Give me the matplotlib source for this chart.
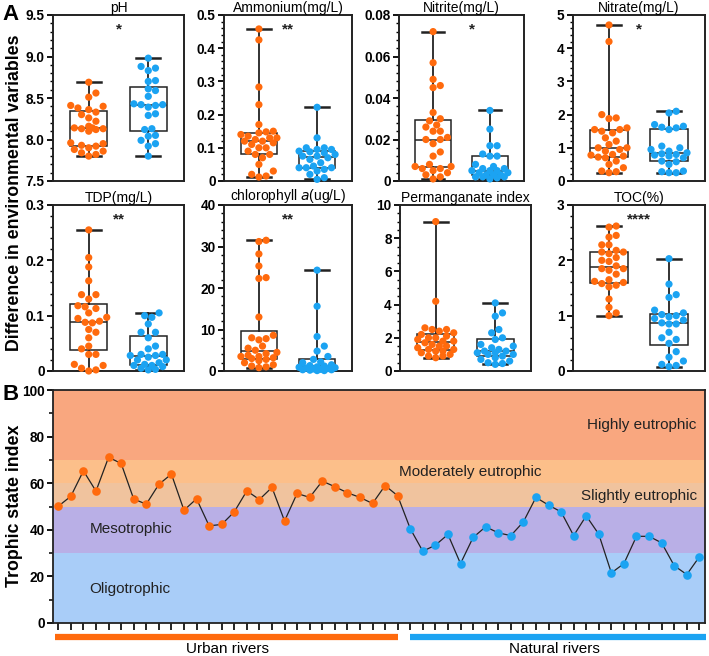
import numpy as np
import matplotlib
matplotlib.use('Agg')
import matplotlib.pyplot as plt
from matplotlib.ticker import AutoMinorLocator, FuncFormatter
import matplotlib.transforms as mtransforms

plt.rcParams['font.family'] = ['Liberation Sans', 'DejaVu Sans']

ORANGE = '#ff6a0d'
BLUE = '#1ba3f2'

# ---- panel A data (urban = orange, natural = blue) ----
ph_urban = [8.69, 8.56, 8.51, 8.41, 8.40, 8.38, 8.36, 8.33, 8.30, 8.26, 8.22, 8.16, 8.14, 8.14,
            8.13, 8.13, 8.12, 8.10, 7.96, 7.95, 7.93, 7.92, 7.90, 7.88, 7.86, 7.84, 7.82, 7.80]
ph_natural = [8.98, 8.88, 8.86, 8.83, 8.71, 8.70, 8.61, 8.59, 8.52, 8.43, 8.42, 8.42, 8.41, 8.39,
              8.31, 8.29, 8.13, 8.12, 8.05, 8.04, 7.99, 7.95, 7.92, 7.80]
nh4_urban = [0.458, 0.425, 0.283, 0.23, 0.17, 0.15, 0.148, 0.145, 0.14, 0.135, 0.13, 0.13, 0.125, 0.12,
             0.12, 0.115, 0.11, 0.10, 0.10, 0.09, 0.08, 0.08, 0.07, 0.05, 0.03, 0.02, 0.015, 0.012]
nh4_natural = [0.222, 0.13, 0.10, 0.10, 0.095, 0.095, 0.09, 0.088, 0.085, 0.08, 0.075, 0.075, 0.07, 0.065,
               0.055, 0.045, 0.04, 0.04, 0.04, 0.035, 0.03, 0.02, 0.01, 0.005]
no2_urban = [0.072, 0.057, 0.049, 0.046, 0.045, 0.033, 0.030, 0.029, 0.027, 0.026, 0.024, 0.024, 0.021, 0.020,
             0.020, 0.018, 0.014, 0.012, 0.008, 0.007, 0.007, 0.006, 0.006, 0.005, 0.004, 0.003, 0.002, 0.001]
no2_natural = [0.034, 0.025, 0.017, 0.017, 0.013, 0.012, 0.012, 0.008, 0.007, 0.006, 0.006, 0.005, 0.005, 0.005,
               0.004, 0.004, 0.003, 0.003, 0.003, 0.002, 0.002, 0.002, 0.0015, 0.001]
no3_urban = [4.7, 4.2, 2.0, 1.9, 1.88, 1.6, 1.55, 1.55, 1.5, 1.45, 1.3, 1.2, 1.1, 1.0,
             1.0, 0.95, 0.9, 0.8, 0.78, 0.75, 0.72, 0.7, 0.6, 0.5, 0.4, 0.3, 0.28, 0.25]
no3_natural = [2.1, 2.05, 1.7, 1.65, 1.62, 1.6, 1.55, 1.05, 1.0, 0.95, 0.9, 0.85, 0.82, 0.8,
               0.78, 0.75, 0.7, 0.6, 0.58, 0.5, 0.3, 0.28, 0.25, 0.25]
tdp_urban = [0.255, 0.205, 0.188, 0.163, 0.138, 0.138, 0.13, 0.118, 0.116, 0.113, 0.105, 0.097, 0.095, 0.09,
             0.088, 0.087, 0.075, 0.07, 0.06, 0.045, 0.04, 0.03, 0.03, 0.012, 0.01, 0.005, 0.002, 0.0]
tdp_natural = [0.105, 0.10, 0.097, 0.085, 0.07, 0.07, 0.06, 0.045, 0.04, 0.03, 0.03, 0.028, 0.028, 0.025,
               0.02, 0.02, 0.015, 0.012, 0.01, 0.01, 0.008, 0.005, 0.003, 0.002]
chla_urban = [31.5, 31.2, 28.2, 25.3, 22.5, 22.3, 13.0, 8.6, 8.0, 7.8, 7.5, 6.0, 5.5, 5.0,
              4.5, 4.2, 3.8, 3.5, 3.5, 3.2, 3.0, 2.8, 2.5, 2.0, 1.5, 1.2, 1.0, 0.8]
chla_natural = [24.3, 15.6, 8.3, 6.0, 4.8, 3.5, 2.8, 2.2, 2.0, 1.5, 1.3, 1.2, 1.0, 0.9,
                0.8, 0.7, 0.6, 0.5, 0.4, 0.3, 0.3, 0.2, 0.1, 0.1]
codmn_urban = [9.0, 4.2, 2.6, 2.5, 2.5, 2.4, 2.3, 2.2, 2.1, 2.0, 2.0, 1.9, 1.8, 1.8,
               1.7, 1.6, 1.5, 1.5, 1.4, 1.3, 1.3, 1.2, 1.2, 1.1, 1.0, 0.9, 0.9, 0.8]
codmn_natural = [4.1, 3.5, 3.3, 2.5, 2.3, 2.0, 1.9, 1.6, 1.5, 1.4, 1.3, 1.2, 1.2, 1.1,
                 1.1, 1.0, 1.0, 0.9, 0.8, 0.7, 0.6, 0.5, 0.45, 0.4]
toc_urban = [2.62, 2.60, 2.45, 2.42, 2.28, 2.28, 2.18, 2.15, 2.15, 2.12, 2.05, 2.0, 1.98, 1.9,
             1.85, 1.85, 1.82, 1.75, 1.65, 1.62, 1.6, 1.58, 1.55, 1.52, 1.3, 1.15, 1.05, 1.0]
toc_natural = [2.03, 1.57, 1.38, 1.33, 1.10, 1.05, 1.02, 1.0, 0.98, 0.95, 0.92, 0.87, 0.85, 0.85,
               0.7, 0.6, 0.57, 0.5, 0.35, 0.25, 0.18, 0.12, 0.1, 0.08]

titles = ['pH', 'Ammonium(mg/L)', 'Nitrite(mg/L)', 'Nitrate(mg/L)',
          'TDP(mg/L)', 'chlorophyll $\\mathit{a}$(ug/L)', 'Permanganate index', 'TOC(%)']
stars = ['*', '**', '*', '*', '**', '**', '', '****']
ylims = [(7.5, 9.5), (0, 0.5), (0, 0.08), (0, 5), (0, 0.3), (0, 40), (0, 10), (0, 3)]
yticks = [[7.5, 8.0, 8.5, 9.0, 9.5], [0, 0.1, 0.2, 0.3, 0.4, 0.5], [0, 0.02, 0.04, 0.06, 0.08],
          [0, 1, 2, 3, 4, 5], [0, 0.1, 0.2, 0.3], [0, 10, 20, 30, 40], [0, 2, 4, 6, 8, 10], [0, 1, 2, 3]]
urban_sets = [ph_urban, nh4_urban, no2_urban, no3_urban, tdp_urban, chla_urban, codmn_urban, toc_urban]
natural_sets = [ph_natural, nh4_natural, no2_natural, no3_natural, tdp_natural, chla_natural,
                codmn_natural, toc_natural]

# ---- panel B data ----
tsi_urban = [50.1, 54.4, 65.3, 56.6, 71.1, 68.5, 53.2, 51.0, 59.5, 63.9, 48.4, 53.3, 41.7, 42.3,
             47.7, 56.7, 53.0, 58.2, 43.8, 55.6, 53.9, 60.9, 58.5, 55.9, 53.9, 51.3, 59.0, 54.6]
tsi_natural = [40.5, 30.8, 33.4, 38.0, 25.5, 36.7, 41.3, 38.7, 37.5, 43.4, 53.9, 50.6, 47.7, 37.5,
               46.0, 38.1, 21.5, 25.5, 37.2, 37.2, 34.4, 24.6, 20.8, 28.4]
bands = [(0, 30, '#a9cdf8'), (30, 50, '#b9afe6'), (50, 60, '#f0c39e'), (60, 70, '#fcbf8a'), (70, 100, '#f9a77f')]

W, H = 709, 656
fig = plt.figure(figsize=(W / 100, H / 100), dpi=100)


def rect(x0, y0, x1, y1):
    return [x0 / W, 1 - y1 / H, (x1 - x0) / W, (y1 - y0) / H]


def swarm(vals, ylim, h_px, px_per_unit, diam=7.2, max_px=21):
    # simple beeswarm, offsets capped to roughly the box width
    scale = h_px / (ylim[1] - ylim[0])
    ys = np.asarray(vals) * scale
    placed = []
    offs = np.zeros(len(vals))
    smax = int(max_px // (diam * 0.5))
    cands = [0]
    for s in range(1, smax + 1):
        cands += [s, -s]
    for i in np.argsort(ys):
        best, best_d = 0, -1
        for s in cands:
            x = s * diam * 0.5
            d = min([np.hypot(x - px, ys[i] - py) for px, py in placed] + [99])
            if d >= diam * 0.97:
                best = x
                break
            if d > best_d + 0.5:
                best, best_d = x, d
        placed.append((best, ys[i]))
        offs[i] = best
    return offs / px_per_unit


panel_px = [(53, 15, 184, 181), (224, 15, 352, 181), (399, 15, 524, 181), (573, 15, 705, 181),
            (53, 205, 184, 371), (224, 205, 352, 371), (400, 205, 531, 371), (573, 205, 705, 371)]

for k in range(8):
    x0, y0, x1, y1 = panel_px[k]
    ax = fig.add_axes(rect(x0, y0, x1, y1))
    data = [urban_sets[k], natural_sets[k]]
    ax.boxplot(data, positions=[0, 1], widths=0.63, whis=(0, 100), showfliers=False,
               patch_artist=True,
               boxprops=dict(facecolor='white', edgecolor='#222222', linewidth=1.1),
               medianprops=dict(color='#222222', linewidth=1.1),
               whiskerprops=dict(color='#222222', linewidth=1.3),
               capprops=dict(color='#222222', linewidth=1.8), capwidths=0.4)
    ax.set_xlim(-0.6, 1.6)
    ax.set_ylim(*ylims[k])
    ppu = (x1 - x0) / 2.2
    for pos, vals, col in [(0, urban_sets[k], ORANGE), (1, natural_sets[k], BLUE)]:
        off = swarm(vals, ylims[k], y1 - y0, ppu)
        ax.scatter(pos + off, vals, s=27, color=col, edgecolors='none', zorder=5, clip_on=False)
    ax.set_xticks([])
    ax.set_yticks(yticks[k])
    if k == 0:
        ax.yaxis.set_major_formatter(FuncFormatter(lambda v, p: f'{v:.1f}'))
    else:
        ax.yaxis.set_major_formatter(FuncFormatter(lambda v, p: '0' if v == 0 else f'{v:g}'))
    ax.yaxis.set_minor_locator(AutoMinorLocator(4 if k == 6 else 5))
    ax.tick_params(axis='y', which='major', direction='out', length=4, width=1.3, labelsize=9.8, pad=2)
    ax.tick_params(axis='y', which='minor', direction='out', length=2, width=1.0)
    for lab in ax.get_yticklabels():
        lab.set_fontweight('bold')
    for sp in ax.spines.values():
        sp.set_linewidth(1.4)
        sp.set_color('#222222')
    ax.set_title(titles[k], fontsize=10, pad=2)
    if stars[k]:
        ax.text(0.58 if k == 2 else 0.5, 0.955, stars[k], transform=ax.transAxes, ha='center', va='top',
                fontsize=11, fontweight='bold', color='#222222')

fig.text(15 / W, 1 - 193 / H, 'Difference in environmental variables', rotation=90, ha='center',
         va='center', fontsize=12.8, fontweight='bold')
fig.text(15 / W, 1 - 506 / H, 'Trophic state index', rotation=90, ha='center',
         va='center', fontsize=12.8, fontweight='bold')
fig.text(2 / W, 1 - 14 / H, 'A', fontsize=16, fontweight='bold', va='center')
fig.text(2 / W, 1 - 395 / H, 'B', fontsize=16, fontweight='bold', va='center')

# ---- panel B ----
axb = fig.add_axes(rect(53, 390, 705, 623))
for lo, hi, c in bands:
    axb.axhspan(lo, hi, color=c, lw=0, zorder=0)
n_u = len(tsi_urban)
tsi = tsi_urban + tsi_natural
idx = np.arange(len(tsi))
axb.plot(idx, tsi, color='#222222', lw=0.9, zorder=2)
axb.plot(idx[:n_u], tsi_urban, 'o', color=ORANGE, ms=6.2, mec='none', zorder=3, clip_on=False)
axb.plot(idx[n_u:], tsi_natural, 'o', color=BLUE, ms=6.2, mec='none', zorder=3, clip_on=False)
axb.set_xlim(-0.42, len(tsi) - 0.55)
axb.set_ylim(0, 100)
axb.set_xticks(idx)
axb.set_xticklabels([])
axb.set_yticks([0, 20, 40, 60, 80, 100])
axb.yaxis.set_minor_locator(AutoMinorLocator(2))
axb.tick_params(axis='x', direction='out', length=5, width=1.2)
axb.tick_params(axis='y', which='major', direction='out', length=4, width=1.3, labelsize=9.8, pad=2)
axb.tick_params(axis='y', which='minor', direction='out', length=3, width=1.1)
for lab in axb.get_yticklabels():
    lab.set_fontweight('bold')
for sp in axb.spines.values():
    sp.set_linewidth(1.3)
    sp.set_color('#222222')

lab_kw = dict(fontsize=11, color='#222222', va='center')
axb.text(50.8, 85, 'Highly eutrophic', ha='right', **lab_kw)
axb.text(27.1, 64.9, 'Moderately eutrophic', ha='left', **lab_kw)
axb.text(50.8, 54.6, 'Slightly eutrophic', ha='right', **lab_kw)
axb.text(2.5, 40.3, 'Mesotrophic', ha='left', **lab_kw)
axb.text(2.5, 14.5, 'Oligotrophic', ha='left', **lab_kw)

trans = mtransforms.blended_transform_factory(axb.transData, axb.transAxes)
axb.plot([-0.25, n_u - 0.95], [-0.062, -0.062], color=ORANGE, lw=4.5, solid_capstyle='butt',
         transform=trans, clip_on=False)
axb.plot([n_u - 0.05, len(tsi) - 0.5], [-0.062, -0.062], color=BLUE, lw=4.5, solid_capstyle='butt',
         transform=trans, clip_on=False)
axb.text((n_u - 1) / 2, -0.11, 'Urban rivers', transform=trans, ha='center', va='center', fontsize=11)
axb.text((n_u + len(tsi) - 1) / 2, -0.11, 'Natural rivers', transform=trans, ha='center', va='center',
         fontsize=11)

fig.savefig('out.png', dpi=100)
